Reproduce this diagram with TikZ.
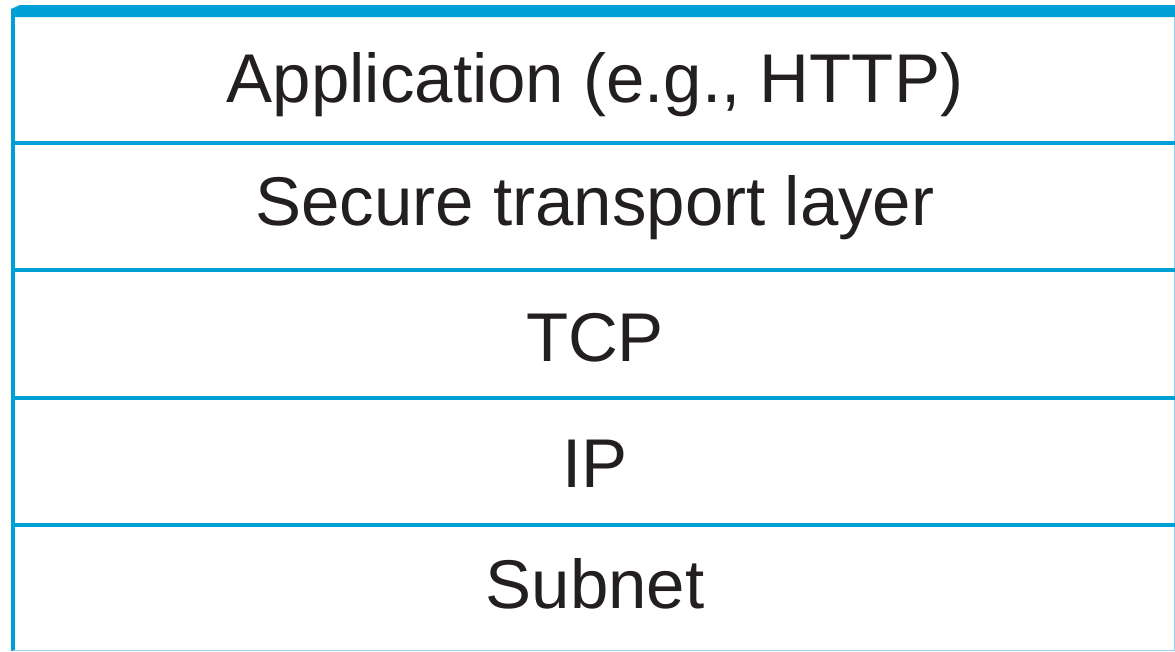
\documentclass[tikz,border=0pt]{standalone}
\usepackage{fontspec}
\setmainfont{Liberation Sans}
\definecolor{layerblue}{RGB}{0,160,214}
\definecolor{edgeblue}{RGB}{150,210,235}
\definecolor{inkblack}{RGB}{35,31,32}
\tikzset{
  layertext/.style={anchor=base, inner sep=0pt, font=\fontsize{69}{78}\selectfont, text=inkblack},
  divider/.style={draw=layerblue, line width=4pt},
}
\begin{document}
\begin{tikzpicture}[x=1pt,y=-1pt]
\useasboundingbox (0,0) rectangle (1175,651);
\fill[white] (0,0) rectangle (1175,651);
% frame
\coordinate (bl) at (13,651);
\fill[layerblue] (11,9) -- (20,5) -- (1175,5) -- (1175,17) -- (11,17) -- cycle;
\draw[layerblue, line width=4pt] (13,11) -- (bl);
\draw[edgeblue, line width=1.5pt] (1174.5,17) -- (1174.5,651);
\draw[edgeblue, line width=1.5pt] (13,650.5) -- (1175,650.5);
% dividers
\coordinate (d1l) at (13,142.5); \coordinate (d1r) at (1175,142.5);
\coordinate (d2l) at (13,269.5); \coordinate (d2r) at (1175,269.5);
\coordinate (d3l) at (13,397.5); \coordinate (d3r) at (1175,397.5);
\coordinate (d4l) at (13,525);   \coordinate (d4r) at (1175,525);
\draw[divider] (d1l) -- (d1r);
\draw[divider] (d2l) -- (d2r);
\draw[divider] (d3l) -- (d3r);
\draw[divider] (d4l) -- (d4r);
% labels
\node[layertext] (app) at (595,102) {Application (e.g., HTTP)};
\node[layertext] (sec) at (595,225) {Secure transport layer};
\node[layertext] (tcp) at (595,361) {TCP};
\node[layertext] (ip)  at (595,487) {IP};
\node[layertext] (sub) at (595,608) {Subnet};
\end{tikzpicture}
\end{document}
